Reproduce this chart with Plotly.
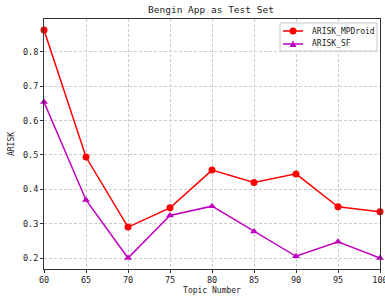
import plotly.graph_objects as go

topics = [60, 65, 70, 75, 80, 85, 90, 95, 100]
arisk_mpdroid = [0.864, 0.494, 0.290, 0.346, 0.456, 0.420, 0.445, 0.349, 0.335]
arisk_sf = [0.654, 0.369, 0.200, 0.324, 0.351, 0.277, 0.205, 0.247, 0.200]
x_ticks = [60, 65, 70, 75, 80, 85, 90, 95, 100]
y_ticks = [0.2, 0.3, 0.4, 0.5, 0.6, 0.7, 0.8]
series_names = ["ARISK_MPDroid", "ARISK_SF"]
series_colors = ["#ff0000", "#c000c0"]

FONT = "DejaVu Sans Mono"
W, H = 385, 299
ML, MR, MT, MB = 44, 5, 19, 30
PW, PH = W - ML - MR, H - MT - MB


def px(x):
    return (x - ML) / PW


def py(y):
    return (H - MB - y) / PH


fig = go.Figure()
fig.add_trace(go.Scatter(x=topics, y=arisk_mpdroid, name=series_names[0], mode="lines+markers",
                         line=dict(color=series_colors[0], width=1.5),
                         marker=dict(symbol="circle", size=7, color=series_colors[0]), cliponaxis=False))
fig.add_trace(go.Scatter(x=topics, y=arisk_sf, name=series_names[1], mode="lines+markers",
                         line=dict(color=series_colors[1], width=1.5),
                         marker=dict(symbol="triangle-up", size=7, color=series_colors[1]), cliponaxis=False))

axis_common = dict(showline=True, linecolor="#333", linewidth=1, mirror=True,
                   showgrid=True, gridcolor="#cccccc", griddash="3px,2px", gridwidth=0.8,
                   ticks="outside", ticklen=3, tickcolor="#333", zeroline=False,
                   ticklabeloverflow="allow",
                   tickfont=dict(size=8.5, color="#222", family=FONT))

# manual legend
shapes = [dict(type="rect", xref="paper", yref="paper", x0=px(280), x1=px(377), y0=py(51), y1=py(23),
               line=dict(color="#c8c8c8", width=1), fillcolor="rgba(255,255,255,0.85)", layer="above")]
annotations = []
for i, (nm, col) in enumerate(zip(series_names, series_colors)):
    yy = 31 + 13 * i
    shapes.append(dict(type="line", xref="paper", yref="paper", x0=px(283), x1=px(303), y0=py(yy), y1=py(yy),
                       line=dict(color=col, width=1.5), layer="above"))
    if i == 0:
        shapes.append(dict(type="circle", xref="paper", yref="paper", x0=px(289.5), x1=px(296.5),
                           y0=py(yy + 3.5), y1=py(yy - 3.5), fillcolor=col, line=dict(color=col, width=0),
                           layer="above"))
    else:
        path = "M {} {} L {} {} L {} {} Z".format(px(289.5), py(yy + 3), px(296.5), py(yy + 3), px(293), py(yy - 3.5))
        shapes.append(dict(type="path", xref="paper", yref="paper", path=path, fillcolor=col,
                           line=dict(color=col, width=0), layer="above"))
    annotations.append(dict(text=nm, xref="paper", yref="paper", x=px(310), y=py(yy), xanchor="left",
                            yanchor="middle", showarrow=False, font=dict(size=8, family=FONT, color="#222")))

fig.update_layout(
    width=W, height=H,
    margin=dict(l=ML, r=MR, t=MT, b=MB, autoexpand=False),
    paper_bgcolor="white", plot_bgcolor="white",
    font=dict(family=FONT, size=9, color="#222"),
    title=dict(text="Bengin App as Test Set", x=(211 / W), xanchor="center", y=1 - 10 / H, yanchor="middle",
               font=dict(size=9.5, family=FONT, color="#222")),
    xaxis=dict(range=[60, 100], tickvals=x_ticks,
               title=dict(text="Topic Number", font=dict(size=8, family=FONT), standoff=3),
               **axis_common),
    yaxis=dict(range=[0.168, 0.896], tickvals=y_ticks, tickformat=".1f",
               title=dict(text="ARISK", font=dict(size=8, family=FONT), standoff=7),
               **axis_common),
    shapes=shapes, annotations=annotations,
    showlegend=False,
)

fig.write_html("out.html", config=dict(displayModeBar=False),
               post_script="document.body.style.margin='0';document.body.style.overflow='hidden';")
